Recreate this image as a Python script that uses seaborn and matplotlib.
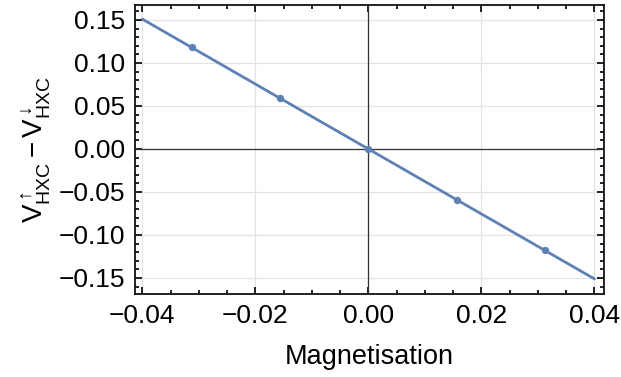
import numpy as np
import pandas as pd
import seaborn as sns
import matplotlib.pyplot as plt
from matplotlib.ticker import MultipleLocator

# sampled points (markers)
magnetisation = [-0.03125, -0.015625, 0.0, 0.015625, 0.03125]
potential_diff = [0.118, 0.059, 0.0, -0.059, -0.118]

# fitted line end points
fit_x = [-0.04, 0.04]
fit_y = [0.151, -0.151]

sns.set_style("ticks")
plt.rcParams['font.family'] = ['Liberation Sans', 'DejaVu Sans']
plt.rcParams['mathtext.fontset'] = 'custom'
plt.rcParams['mathtext.rm'] = 'Liberation Sans'
plt.rcParams['mathtext.it'] = 'Liberation Sans:italic'
plt.rcParams['text.color'] = 'black'
plt.rcParams['axes.labelcolor'] = 'black'
plt.rcParams['xtick.labelcolor'] = 'black'
plt.rcParams['ytick.labelcolor'] = 'black'

blue = "#5E81B5"

fig = plt.figure(figsize=(6.21, 3.77), dpi=100)
ax = fig.add_axes([0.2174, 0.2202, 0.7552, 0.7665])

pts = pd.DataFrame({"m": magnetisation, "v": potential_diff})
fit = pd.DataFrame({"m": fit_x, "v": fit_y})

ax.axhline(0, color="#333333", lw=0.9, zorder=1)
ax.axvline(0, color="#333333", lw=0.9, zorder=1)
sns.lineplot(data=fit, x="m", y="v", ax=ax, color=blue, lw=2.0, zorder=3)
sns.scatterplot(data=pts, x="m", y="v", ax=ax, color=blue, s=28,
                edgecolor=blue, linewidth=0, zorder=4)

ax.set_xlim(-0.0413, 0.0417)
ax.set_ylim(-0.1686, 0.1674)

ax.xaxis.set_major_locator(MultipleLocator(0.02))
ax.xaxis.set_minor_locator(MultipleLocator(0.005))
ax.yaxis.set_major_locator(MultipleLocator(0.05))
ax.yaxis.set_minor_locator(MultipleLocator(0.01))
ax.xaxis.set_major_formatter(lambda v, p: f"{v:.2f}".replace("-", "\u2212") if abs(v) > 1e-9 else "0.00")
ax.yaxis.set_major_formatter(lambda v, p: f"{v:.2f}".replace("-", "\u2212") if abs(v) > 1e-9 else "0.00")

ax.grid(True, which="major", color="#e3e3e3", lw=0.9, zorder=0)

for s in ax.spines.values():
    s.set_visible(True)
    s.set_color("#111111")
    s.set_linewidth(1.3)

ax.tick_params(which="both", direction="in", top=True, right=True,
               color="#111111", width=1.3, labelsize=19, pad=7)
ax.tick_params(which="major", length=5)
ax.tick_params(which="minor", length=3)

ax.set_xlabel("Magnetisation", fontsize=19.5, labelpad=12)
ax.set_ylabel(r"$\mathrm{V}^{\uparrow}_{\mathrm{HXC}} - \mathrm{V}^{\downarrow}_{\mathrm{HXC}}$",
              fontsize=20, labelpad=4)

fig.savefig("out.png", dpi=100)
